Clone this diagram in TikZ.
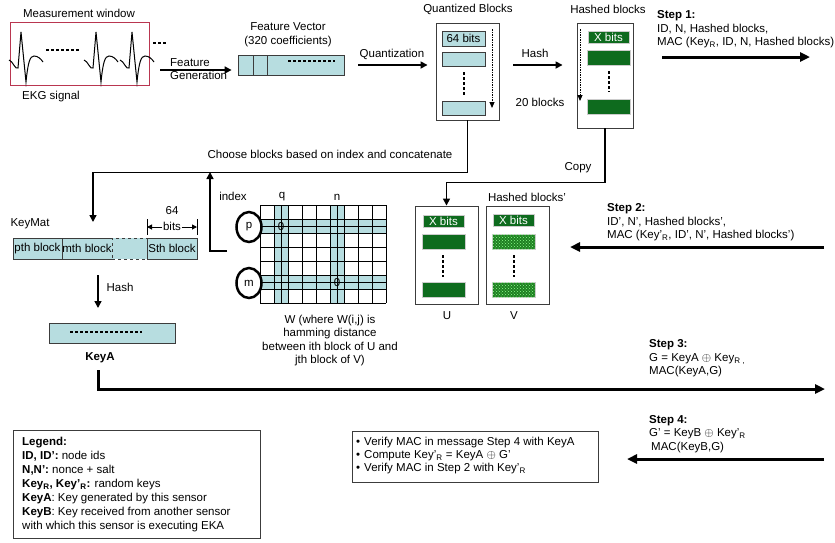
\documentclass[tikz,border=0pt]{standalone}
\usepackage{fontspec}
\setmainfont{Liberation Sans}
\usetikzlibrary{arrows.meta,shapes.geometric,patterns}
\definecolor{cellblue}{HTML}{B7DDE0}
\definecolor{hashgreen}{HTML}{0E6B1E}
\definecolor{dotgreen}{HTML}{1F7F22}
\definecolor{ekgred}{HTML}{B93650}
\definecolor{boxgray}{HTML}{3C3C3C}
\newcommand{\ekgbeat}[1]{%
  \draw[line width=1pt,shift={(#1,0)}] (-12,60) .. controls (-8,61) and (-6,70) .. (-3,68)
    -- (0,32) -- (5,82) .. controls (7,62) and (9,56) .. (13,56)
    .. controls (17,56) and (20,59) .. (22,62);}

\begin{document}
\begin{tikzpicture}[x=1pt,y=-1pt,every node/.style={font=\fontsize{11.5}{13.5}\selectfont}]
    \tikzset{
      boxline/.style={draw=boxgray,line width=0.9pt,inner sep=0pt},
      cell/.style={draw=boxgray,fill=cellblue,line width=0.8pt,inner sep=0pt},
      gcell/.style={fill=hashgreen,draw=gray!40,line width=0.6pt,inner sep=0pt,minimum width=43pt,minimum height=15pt},
      dcell/.style={gcell,fill=dotgreen,postaction={pattern=crosshatch dots,pattern color=green!45!white}},
      xlabel/.style={gcell,minimum width=41pt,minimum height=12pt,text=white},
      arrow/.style={-{Triangle[length=7pt,width=7pt]},line width=1.6pt},
      flow/.style={-{Triangle[length=7pt,width=7pt]},line width=1.5pt},
      msg/.style={-{Triangle[length=10pt,width=9pt]},line width=3pt},
      dashline/.style={line width=1.2pt,dash pattern=on 3pt off 2pt},
      steptext/.style={align=left,anchor=west,inner sep=0pt}
    }
    \useasboundingbox (0,0) rectangle (835,542);

    \begin{scope}
      \node (mwin) at (79,13) {Measurement window};
      \node[draw=ekgred,line width=1pt,minimum width=139pt,minimum height=63pt,inner sep=0pt] (ekg) at (79.5,53.5) {};
      \ekgbeat{21}
      \ekgbeat{96}
      \ekgbeat{132}
      \draw[dashline] (46,50) -- (80,50);
      \draw[dashline] (153,43) -- (167,43);
      \node (ekglbl) at (51,97) {EKG signal};
    \end{scope}

    \coordinate (fgen) at (160,70);
    \node[cell,minimum width=106pt,minimum height=20pt] (fvec) at (291,65) {};
    \draw[boxline] (253,55) -- (253,75);
    \draw[boxline] (267,55) -- (267,75);
    \draw[dashline] (288,61) -- (335,61);
    \node[align=center] (fvlbl) at (288,34.5) {Feature Vector\\(320 coefficients)};
    \draw[arrow,shorten >=6pt] (fgen) -- (fvec.west |- fgen);
    \node[steptext] (fglbl) at (170,69) {Feature\\Generation};

    \node[boxline,minimum width=63pt,minimum height=97pt] (qbox) at (467.5,71.5) {};
    \node (qlbl) at (468,9) {Quantized Blocks};
    \node[cell,minimum width=43pt,minimum height=15pt] (q1) at (463.5,38.5) {64 bits};
    \node[cell,minimum width=43pt,minimum height=14pt] (q2) at (463.5,59) {};
    \node[cell,minimum width=43pt,minimum height=14pt] (q3) at (463.5,108) {};
    \draw[dashline] (464,72) -- (464,95);
    \draw[-{Triangle[length=6pt,width=5pt]},line width=1pt,dash pattern=on 1.5pt off 1pt] (492,29) -- (492,108);
    \coordinate (quant) at (358,65);
    \draw[arrow,shorten >=8pt] (quant) -- (qbox.west |- quant);
    \node (quantlbl) at (392,54) {Quantization};

    \node[boxline,minimum width=56pt,minimum height=105pt] (hbox) at (605,75.5) {};
    \node (hlbl) at (608,9) {Hashed blocks};
    \node[xlabel] (h1) at (608.5,37) {X bits};
    \node[gcell] (h2) at (608.5,57.5) {};
    \node[gcell] (h3) at (608.5,106.5) {};
    \draw[dashline] (609,71) -- (609,92);
    \draw[-{Triangle[length=6pt,width=5pt]},line width=1pt,dash pattern=on 1.5pt off 1pt] (580,29) -- (580,101);
    \node (nblk) at (540,102) {20 blocks};
    \coordinate (hashin) at (513,65);
    \draw[arrow,shorten >=14pt] (hashin) -- (hbox.west |- hashin);
    \node (hashlbl) at (535,53) {Hash};

    \node[steptext] (step1) at (657,29.5) {\textbf{Step 1:}\\ID, N, Hashed blocks,\\MAC (Key\textsubscript{R}, ID, N, Hashed blocks)};
    \coordinate (s1a) at (662,57);
    \coordinate (s1b) at (810,57);
    \draw[msg] (s1a) -- (s1b);

    \coordinate (kmin) at (93,222);
    \draw[flow] (qbox.south) -- ++(0,52) -| (kmin);
    \node (choose) at (330,154) {Choose blocks based on index and concatenate};
    \coordinate (idxfoot) at (227,251);
    \coordinate (idxtop) at (210,172);
    \draw[flow] (idxfoot) -| (idxtop);
    \node (idxlbl) at (233,196) {index};

    \node (kmlbl) at (30,224) {KeyMat};
    \node[cell,minimum width=49pt,minimum height=21pt] (pblk) at (37.5,248.5) {pth block};
    \node[cell,minimum width=50pt,minimum height=21pt] (mblk) at (87,248.5) {mth block};
    \node[cell,dashed,minimum width=35pt,minimum height=21pt] (dblk) at (129.5,248.5) {};
    \node[cell,minimum width=50pt,minimum height=21pt] (sblk) at (172,248.5) {Sth block};
    \node (bitsnum) at (172,211) {64};
    \node[inner sep=0.5pt] (bits) at (172,226) {bits};
    \coordinate (bl) at (147,227);
    \coordinate (br) at (197,227);
    \draw[line width=0.8pt] (147,219) -- (147,235);
    \draw[line width=0.8pt] (197,219) -- (197,235);
    \draw[-{Triangle[length=5pt,width=5pt]},line width=1pt] (bits.west |- bl) -- (bl);
    \draw[-{Triangle[length=5pt,width=5pt]},line width=1pt] (bits.east |- br) -- (br);

    \coordinate (kmhash) at (98,275);
    \coordinate (hashend) at (98,308);
    \draw[flow] (kmhash) -- (hashend);
    \node (kmhashlbl) at (120,287) {Hash};
    \node[cell,minimum width=126pt,minimum height=20pt] (keya) at (112,333) {};
    \draw[dashline] (70,332) -- (142,332);
    \node (keyalbl) at (100,358) {\textbf{KeyA}};

    \begin{scope}
      \fill[cellblue] (260,219) rectangle (386,233);
      \fill[cellblue] (260,275) rectangle (386,289);
      \fill[cellblue] (274,205) rectangle (288,303);
      \fill[cellblue] (330,205) rectangle (344,303);
      \foreach \i in {0,...,9} \draw[line width=0.9pt] (260+14*\i,205) -- (260+14*\i,303);
      \foreach \j in {0,...,7} \draw[line width=0.9pt] (260,205+14*\j) -- (386,205+14*\j);
      \draw[line width=0.7pt] (260,226) -- (386,226);
      \draw[line width=0.7pt] (260,282) -- (386,282);
      \draw[line width=0.7pt] (281,205) -- (281,303);
      \draw[line width=0.7pt] (337,205) -- (337,303);
      \node (zp) at (281,227) {0};
      \node (zm) at (337,283) {0};
      \node (colq) at (282,197) {q};
      \node (coln) at (337,197) {n};
      \node[ellipse,draw,line width=2.5pt,minimum width=25pt,minimum height=30pt,inner sep=0pt] (rowp) at (249,227) {p};
      \node[ellipse,draw,line width=2.5pt,minimum width=25pt,minimum height=30pt,inner sep=0pt] (rowm) at (249,283) {m};
      \node[align=center] (wlbl) at (330,340.5) {W (where W(i,j) is\\hamming distance\\between ith block of U and\\jth block of V)};
    \end{scope}

    \node[boxline,minimum width=63pt,minimum height=98pt] (ubox) at (446.5,255) {};
    \node[xlabel] (u1) at (443.5,221) {X bits};
    \node[gcell] (u2) at (443.5,241.5) {};
    \node[gcell] (u3) at (443.5,290) {};
    \draw[dashline] (443,255) -- (443,277);
    \node (ulbl) at (447,316) {U};
    \node[boxline,minimum width=63pt,minimum height=98pt] (vbox) at (517.5,255) {};
    \node[xlabel] (v1) at (513.5,220) {X bits};
    \node[dcell] (v2) at (513.5,241.5) {};
    \node[dcell] (v3) at (513.5,290) {};
    \draw[dashline] (514,255) -- (514,277);
    \node (vlbl) at (514,316) {V};
    \node (hvlbl) at (527,197) {Hashed blocks’};
    \draw[flow] (hbox.south) -- ++(0,54) -| (ubox.north);
    \node (copylbl) at (578,168) {Copy};

    \node[steptext] (step2) at (607,222.5) {\textbf{Step 2:}\\ID’, N’, Hashed blocks’,\\MAC (Key’\textsubscript{R}, ID’, N’, Hashed blocks’)};
    \coordinate (s2a) at (824,247);
    \coordinate (s2b) at (570,247);
    \draw[msg] (s2a) -- (s2b);

    \coordinate (s3a) at (98,370);
    \coordinate (s3b) at (825,389);
    \draw[msg] (s3a) |- (s3b);
    \node[steptext] (step3) at (649,358.5) {\textbf{Step 3:}\\G = KeyA $\oplus$ Key\textsubscript{R ,}\\MAC(KeyA,G)};

    \node[steptext] (step4) at (649,434) {\textbf{Step 4:}\\G’ = KeyB $\oplus$ Key’\textsubscript{R}\\\hspace{2pt}MAC(KeyB,G)};
    \coordinate (s4a) at (824,459);
    \coordinate (s4b) at (627,459);
    \draw[msg] (s4a) -- (s4b);

    \node[boxline,minimum width=246pt,minimum height=51pt] (verify) at (475,456.5) {};
    \node[steptext,font=\fontsize{11.5}{13}\selectfont] (vlist) at (356,456) {\textbullet\hspace{4pt}Verify MAC in message Step 4 with KeyA\\
      \textbullet\hspace{4pt}Compute Key’\textsubscript{R} = KeyA $\oplus$ G’\\
      \textbullet\hspace{4pt}Verify MAC in Step 2 with Key’\textsubscript{R}};

    \node[boxline,minimum width=247pt,minimum height=108pt] (legend) at (136.5,484) {};
    \node[steptext,font=\fontsize{11.5}{14}\selectfont] (legtext) at (22,485) {\textbf{Legend:}\\
      \textbf{ID, ID’:} node ids\\
      \textbf{N,N’:} nonce + salt\\
      \textbf{Key\textsubscript{R}, Key’\textsubscript{R}:} random keys\\
      \textbf{KeyA}: Key generated by this sensor\\
      \textbf{KeyB}: Key received from another sensor\\
      with which this sensor is executing EKA};
  \end{tikzpicture}
\end{document}
